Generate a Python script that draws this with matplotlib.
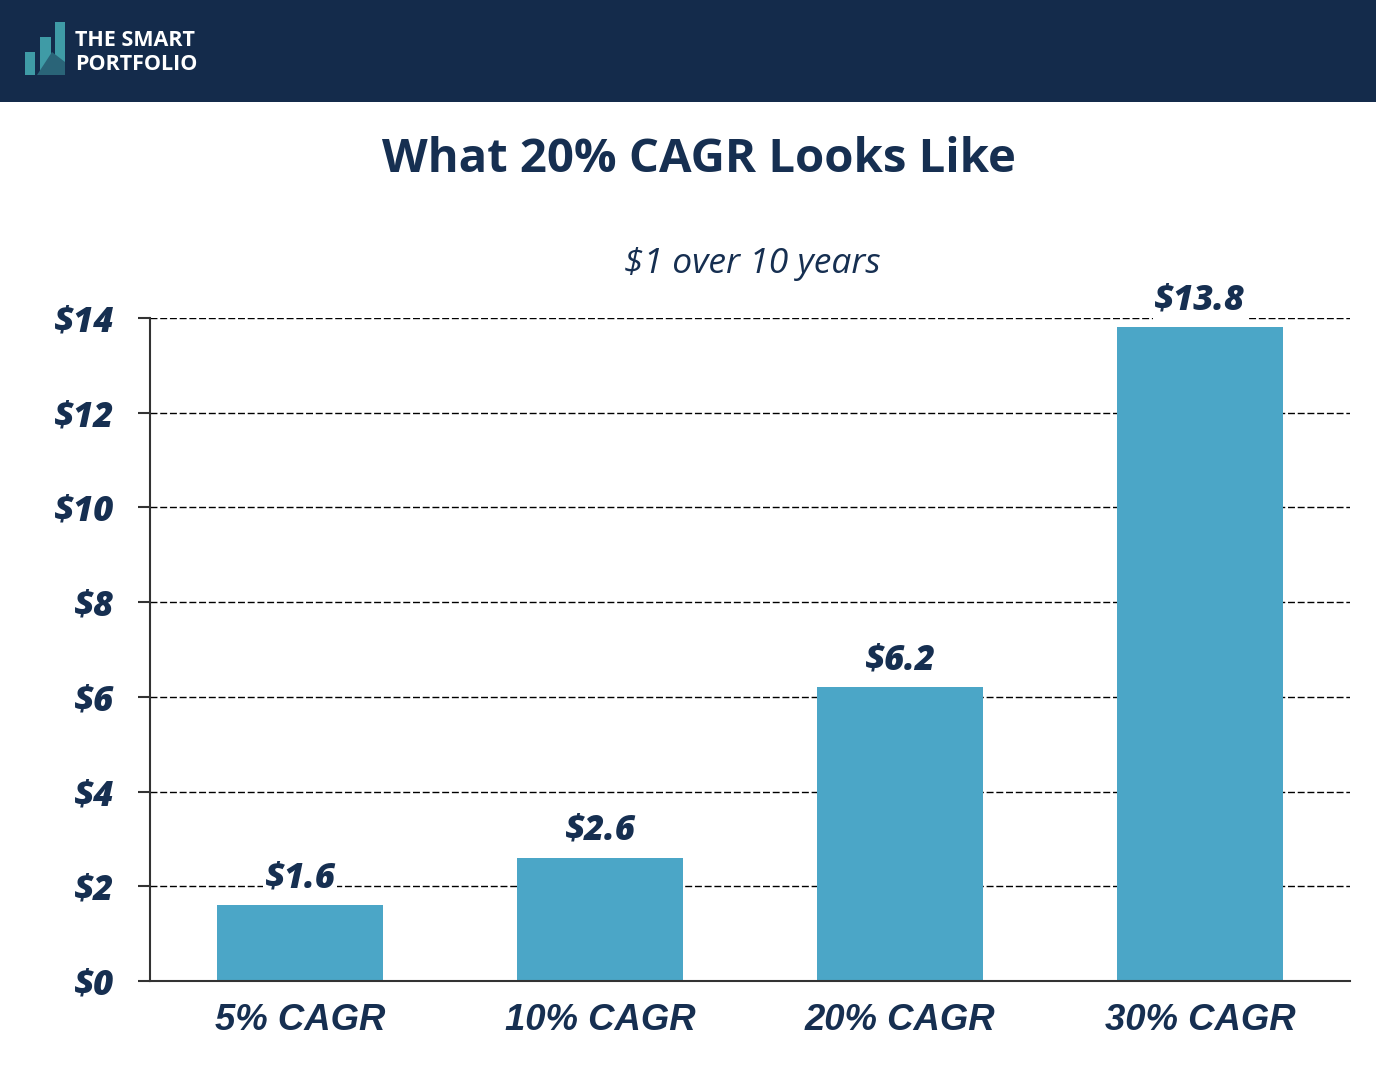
import matplotlib
matplotlib.use("Agg")
import matplotlib.pyplot as plt
from matplotlib.patches import Rectangle, Polygon

categories = ["5% CAGR", "10% CAGR", "20% CAGR", "30% CAGR"]
values = [1.6, 2.6, 6.2, 13.8]
value_labels = ["$1.6", "$2.6", "$6.2", "$13.8"]
yticks = [0, 2, 4, 6, 8, 10, 12, 14]
ytick_labels = ["$0", "$2", "$4", "$6", "$8", "$10", "$12", "$14"]
title = "What 20% CAGR Looks Like"
subtitle = "$1 over 10 years"

NAVY = "#162f51"
HEADER = "#142b4b"
BAR = "#4ba6c7"

fig = plt.figure(figsize=(13.76, 10.76), dpi=100)
fig.patch.set_facecolor("white")

# Header band
fig.add_artist(Rectangle((0, 1 - 102 / 1076), 1, 102 / 1076, transform=fig.transFigure,
                         facecolor=HEADER, edgecolor="none", zorder=0))

def fx(px):
    return px / 1376

def fy(py):
    return 1 - py / 1076

# Logo marks
logo = [(25, 35, 52), (40, 51, 37), (55, 65, 22)]
for x0, x1, ytop in logo:
    fig.add_artist(Rectangle((fx(x0), fy(75)), fx(x1) - fx(x0), fy(ytop) - fy(75),
                             transform=fig.transFigure, facecolor="#3f9ba6",
                             edgecolor="none", zorder=1))
fig.add_artist(Polygon([(fx(37), fy(75)), (fx(52), fy(52)), (fx(65), fy(62)), (fx(65), fy(75))],
                       closed=True, transform=fig.transFigure, facecolor="#2a6478",
                       edgecolor="none", zorder=2))
fig.text(fx(75), fy(40), "THE SMART", color="white", fontsize=15.5, fontweight="bold",
         family="Open Sans", va="center", ha="left")
fig.text(fx(75), fy(64), "PORTFOLIO", color="white", fontsize=15.5, fontweight="bold",
         family="Open Sans", va="center", ha="left")

# Titles
fig.text(fx(699), fy(160), title, color=NAVY, fontsize=34, fontweight="bold",
         family="Open Sans", ha="center", va="center")
fig.text(fx(752), fy(264), subtitle, color=NAVY, fontsize=25.5, fontstyle="italic",
         family="Open Sans", ha="center", va="center")

ax = fig.add_axes([150 / 1376, 1 - 981 / 1076, 1200 / 1376, (981 - 318) / 1076])
x = list(range(len(categories)))
ax.bar(x, values, width=0.553, color=BAR, zorder=2)
ax.set_xlim(-0.5, 3.5)
ax.set_ylim(0, 14)

ax.set_yticks(yticks)
ax.set_yticklabels(ytick_labels)
ax.set_xticks(x)
ax.set_xticklabels(categories)

for lbl in ax.get_yticklabels():
    lbl.set_fontfamily("Open Sans")
    lbl.set_fontweight(800)
    lbl.set_fontstyle("italic")
    lbl.set_fontsize(25)
    lbl.set_color(NAVY)
for lbl in ax.get_xticklabels():
    lbl.set_fontfamily("Liberation Sans")
    lbl.set_fontweight("bold")
    lbl.set_fontstyle("italic")
    lbl.set_fontsize(26.3)
    lbl.set_color(NAVY)

ax.tick_params(axis="y", length=9, width=1.5, color="#333333", pad=17)
ax.tick_params(axis="x", length=0, pad=16)

ax.yaxis.grid(True, linestyle=(0, (5, 2)), color="black", linewidth=1.0, zorder=1)
ax.set_axisbelow(True)
for s in ["top", "right"]:
    ax.spines[s].set_visible(False)
for s in ["left", "bottom"]:
    ax.spines[s].set_color("#333333")
    ax.spines[s].set_linewidth(1.5)
    ax.spines[s].set_zorder(3)

for xi, v, lab in zip(x, values, value_labels):
    ax.annotate(lab, (xi, v), xytext=(0, 19.5), textcoords="offset points",
                ha="center", va="center", fontsize=25, fontweight=800,
                fontstyle="italic", family="Open Sans", color=NAVY, zorder=4,
                bbox=dict(boxstyle="square,pad=0.05", facecolor="white", edgecolor="none"))

fig.savefig("out.png", dpi=100, facecolor="white")
